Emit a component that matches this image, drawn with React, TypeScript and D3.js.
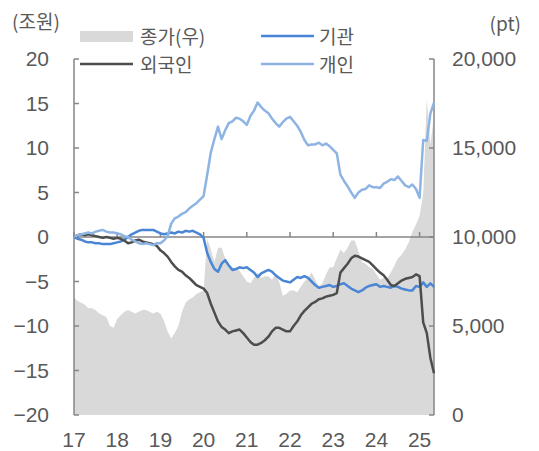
import React from 'react';
import * as d3 from 'd3';

// monthly points, Jan 2017 .. May 2025
const months = d3.range(101).map(i => 2017 + i / 12);
const yearTicks = [2017, 2018, 2019, 2020, 2021, 2022, 2023, 2024, 2025];

// 누적 순매수 (조원)
const institution = [
  0.0, -0.2, -0.3, -0.5, -0.6, -0.6, -0.7, -0.7, -0.8, -0.8, -0.8, -0.7,
  -0.6, -0.5, -0.3, 0.0, 0.3, 0.5, 0.7, 0.8, 0.8, 0.8, 0.8, 0.6,
  0.4, 0.3, 0.4, 0.5, 0.4, 0.6, 0.5, 0.7, 0.6, 0.7, 0.5, 0.3,
  -0.1, -1.8, -2.8, -3.6, -3.9, -3.0, -2.6, -3.2, -3.7, -3.6, -3.4, -3.5,
  -3.4, -3.7, -4.0, -4.5, -4.1, -3.9, -3.7, -3.9, -4.3, -4.6, -4.9, -5.0,
  -5.1, -4.8, -4.5, -4.6, -4.4, -4.6, -5.0, -5.4, -5.7, -5.6, -5.5, -5.4,
  -5.6, -5.5, -5.3, -5.2, -5.5, -5.8, -6.0, -6.2, -6.0, -5.7, -5.5, -5.4,
  -5.3, -5.6, -5.5, -5.6, -5.7, -5.5, -5.6, -5.8, -5.9, -6.0, -6.0, -5.5,
  -5.6, -5.1, -5.6, -5.2, -5.6,
];
const foreigner = [
  0.0, 0.2, 0.3, 0.2, 0.3, 0.2, 0.1, 0.0, -0.1, 0.0, -0.1, -0.2,
  -0.1, -0.2, -0.4, -0.7, -0.6, -0.4, -0.3, -0.5, -0.6, -0.7, -0.8, -1.0,
  -1.5, -1.8, -2.2, -2.8, -3.3, -3.7, -3.9, -4.3, -4.6, -5.0, -5.4, -5.6,
  -5.8, -6.3, -7.5, -8.5, -9.5, -10.1, -10.4, -10.8, -10.6, -10.5, -10.4, -10.8,
  -11.3, -11.8, -12.1, -12.1, -11.9, -11.6, -11.2, -10.6, -10.2, -10.2, -10.4, -10.6,
  -10.6, -10.0, -9.5, -8.8, -8.3, -7.9, -7.5, -7.3, -7.0, -6.9, -6.7, -6.6,
  -6.5, -6.3, -4.0, -3.5, -3.0, -2.4, -2.1, -2.2, -2.4, -2.6, -2.8, -3.2,
  -3.6, -4.0, -4.3, -4.8, -5.4, -5.5, -5.2, -4.9, -4.7, -4.6, -4.5, -4.2,
  -4.4, -9.6, -10.8, -13.6, -15.3,
];
const individual = [
  0.0, 0.2, 0.3, 0.4, 0.5, 0.4, 0.6, 0.7, 0.8, 0.6, 0.5, 0.5,
  0.4, 0.3, 0.1, 0.0, -0.3, -0.5, -0.7, -0.8, -0.7, -0.8, -0.9, -0.7,
  -0.7, -0.4, 0.1, 1.5, 2.1, 2.3, 2.6, 2.8, 3.2, 3.5, 3.8, 4.2,
  4.6, 7.0, 9.5, 11.0, 12.4, 11.0, 12.0, 12.8, 13.0, 13.4, 13.3, 13.0,
  12.6, 13.6, 14.2, 15.1, 14.6, 14.2, 13.9, 13.3, 12.8, 12.4, 12.9, 13.3,
  13.5, 13.0, 12.5, 11.8, 10.9, 10.3, 10.4, 10.4, 10.6, 10.3, 10.5, 10.2,
  9.8, 9.4, 7.0, 6.3, 5.7, 5.0, 4.4, 5.0, 5.3, 5.4, 5.8, 5.6,
  5.6, 5.5, 6.0, 6.2, 6.5, 6.4, 6.8, 6.3, 5.8, 5.6, 5.9, 5.4,
  4.4, 10.9, 10.8, 13.9, 15.1,
];
// 종가 (pt, 우축)
const closePrice = [
  6600, 6400, 6300, 6200, 6000, 6000, 5900, 5700, 5600, 5500, 5000, 4900,
  5400, 5600, 5800, 5900, 5800, 5700, 5800, 5900, 5900, 5800, 5700, 5800,
  5700, 5300, 4700, 4300, 4600, 5000, 5800, 6300, 6500, 6600, 6800, 6900,
  7000, 9900, 9300, 8600, 9400, 9400, 8800, 8500, 8300, 8200, 8100, 7800,
  7500, 7400, 7700, 8000, 7700, 7800, 7800, 7600, 7900, 7500, 6700, 6800,
  7000, 7000, 6900, 7200, 7500, 7700, 8000, 7600, 7200, 7400, 7900, 8300,
  8300, 8800, 9300, 9100, 9400, 9800, 9800, 9200, 8600, 8500, 8300, 8200,
  7900, 7600, 7700, 7700, 8000, 8400, 8800, 9000, 9300, 9700, 10300, 10700,
  11200, 12400, 17800, 15200, 16800,
];

const leftTicks = [-20, -15, -10, -5, 0, 5, 10, 15, 20];
const rightTicks = [0, 5000, 10000, 15000, 20000];

const W = 539;
const H = 451;
const axisColor = '#868686';
const textColor = '#595959';
const numFont = '"Liberation Sans", Arial, sans-serif';
const korFont = '"Noto Sans CJK KR", sans-serif';

export default function App() {
  const x = d3.scaleLinear().domain([2017, 2025 + 4 / 12]).range([74, 434]);
  const yL = d3.scaleLinear().domain([-20, 20]).range([415, 59]);
  const yR = d3.scaleLinear().domain([0, 20000]).range([415, 59]);

  const lineL = (vals: number[]) =>
    d3.line<number>().x((d, i) => x(months[i])).y(d => yL(d))(vals) || '';

  const area = d3
    .area<number>()
    .x((d, i) => x(months[i]))
    .y0(yR(0))
    .y1(d => yR(d))(closePrice) || '';

  const fmtL = d3.format('d');
  const fmtR = d3.format(',');

  const series = [
    { name: '기관', values: institution, color: '#4A86D6' },
    { name: '외국인', values: foreigner, color: '#4D4D4D' },
    { name: '개인', values: individual, color: '#8DB4E2' },
  ];

  return (
    <div style={{ position: 'fixed', left: 0, top: 0 }}>
      <svg width={W} height={H} style={{ display: 'block', background: '#fff' }}>
        {/* close price area (right axis) */}
        <path d={area} fill="#D9D9D9" />

        {/* zero line with year ticks */}
        <line x1={x.range()[0]} x2={x.range()[1]} y1={yL(0)} y2={yL(0)} stroke={axisColor} strokeWidth={1.5} />
        {yearTicks.map(t => (
          <line key={t} x1={x(t)} x2={x(t)} y1={yL(0)} y2={yL(0) - 5} stroke={axisColor} strokeWidth={1.5} />
        ))}

        {/* left axis */}
        <line x1={74} x2={74} y1={yL(20)} y2={yL(-20)} stroke={axisColor} strokeWidth={1.5} />
        {leftTicks.map(t => (
          <g key={t}>
            <line x1={74} x2={79} y1={yL(t)} y2={yL(t)} stroke={axisColor} strokeWidth={1.5} />
            <text x={49} y={yL(t)} dy="0.35em" textAnchor="end" fontFamily={numFont} fontSize={21} fill={textColor}>
              {fmtL(t)}
            </text>
          </g>
        ))}

        {/* right axis */}
        <line x1={434} x2={434} y1={yR(20000)} y2={yR(0)} stroke={axisColor} strokeWidth={1.5} />
        {rightTicks.map(t => (
          <g key={t}>
            <line x1={429} x2={434} y1={yR(t)} y2={yR(t)} stroke={axisColor} strokeWidth={1.5} />
            <text x={452} y={yR(t)} dy="0.35em" fontFamily={numFont} fontSize={21} fill={textColor}>
              {fmtR(t)}
            </text>
          </g>
        ))}

        {/* x labels */}
        {yearTicks.map(t => (
          <text key={t} x={x(t)} y={447} textAnchor="middle" fontFamily={numFont} fontSize={21} fill={textColor}>
            {String(t).slice(2)}
          </text>
        ))}

        {/* series lines */}
        {series.map(s => (
          <path key={s.name} d={lineL(s.values)} fill="none" stroke={s.color} strokeWidth={2.5} strokeLinejoin="round" />
        ))}

        {/* units */}
        <text x={12} y={22} dy="0.35em" fontFamily={korFont} fontSize={19} fill={textColor}>(조원)</text>
        <text x={521} y={24} dy="0.35em" textAnchor="end" fontFamily={korFont} fontSize={19} fill={textColor}>(pt)</text>

        {/* legend */}
        <rect x={80} y={31} width={53} height={11} fill="#D9D9D9" />
        <text x={140} y={37} dy="0.35em" fontFamily={korFont} fontSize={19} fill={textColor}>종가(우)</text>
        <line x1={261} x2={314} y1={36} y2={36} stroke={series[0].color} strokeWidth={2.5} />
        <text x={319} y={37} dy="0.35em" fontFamily={korFont} fontSize={19} fill={textColor}>기관</text>
        <line x1={80} x2={133} y1={64} y2={64} stroke={series[1].color} strokeWidth={2.5} />
        <text x={140} y={65} dy="0.35em" fontFamily={korFont} fontSize={19} fill={textColor}>외국인</text>
        <line x1={261} x2={314} y1={64} y2={64} stroke={series[2].color} strokeWidth={2.5} />
        <text x={319} y={65} dy="0.35em" fontFamily={korFont} fontSize={19} fill={textColor}>개인</text>
      </svg>
    </div>
  );
}
